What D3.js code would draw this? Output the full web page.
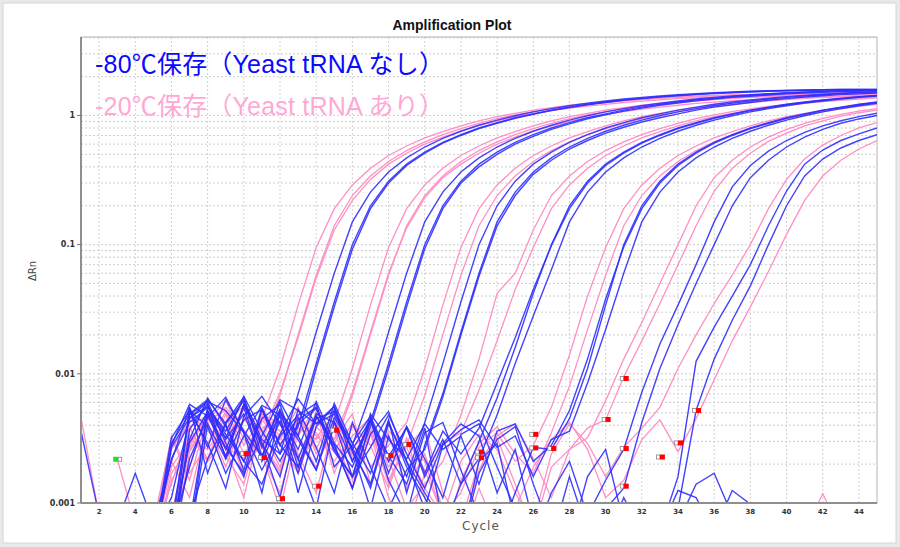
<!DOCTYPE html>
<html>
<head>
<meta charset="utf-8">
<script src="https://cdn.jsdelivr.net/npm/d3@7"></script>
<style>
  body { margin: 0; background: #e9e9e9; }
  svg { display: block; }
</style>
</head>
<body>
<svg id="chart" width="900" height="547"></svg>
<script>
var width = 900;
var height = 547;
var plotLeft = 81;
var plotRight = 877;
var plotTop = 37;
var plotBottom = 503;

var blueColor = "#2f2fff";
var pinkColor = "#ff8fc6";

/* Tick labels */
var xTicks = [2, 4, 6, 8, 10, 12, 14, 16, 18, 20, 22, 24, 26, 28, 30, 32, 34, 36, 38, 40, 42, 44];
var yTicks = [0.001, 0.01, 0.1, 1];
var yTickLabels = ["0.001", "0.01", "0.1", "1"];
var legendLabels = ["-80℃保存（Yeast tRNA なし）", "-20℃保存（Yeast tRNA あり）"];

/* -20C wells (pink): first cycle + dRn per cycle */
var pinkWells = [
  { start: 5, values: [0.0005,0.0019,0.0031,0.0044,0.0052,0.0028,0.0045,0.011,0.034,0.095,0.19,0.29,0.39,0.49,0.58,0.67,0.75,0.83,0.91,0.98,1.04,1.1,1.15,1.2,1.24,1.28,1.31,1.34,1.37,1.39,1.41,1.43,1.44,1.45,1.46,1.47,1.48,1.49,1.5,1.5,1.5] },
  { start: 6, values: [0.0006,0.0038,0.0022,0.0049,0.0017,0.0030,0.0068,0.02,0.058,0.14,0.24,0.34,0.44,0.535,0.625,0.71,0.79,0.87,0.945,1.01,1.07,1.125,1.175,1.22,1.26,1.295,1.325,1.355,1.38,1.4,1.42,1.435,1.445,1.455,1.465,1.475,1.485,1.49,1.495,1.5] },
  { start: 5, values: [0.0007,0.0032,0.0015,0.0047,0.0026,0.0058,0.0034,0.0072,0.019,0.055,0.13,0.22,0.32,0.42,0.51,0.6,0.68,0.76,0.84,0.91,0.98,1.04,1.09,1.14,1.18,1.22,1.26,1.29,1.32,1.35,1.37,1.39,1.41,1.42,1.43,1.44,1.45,1.46,1.47,1.47,1.48] },
  { start: 5, values: [0.0004,0.0015,0.0026,0.0041,0.0055,0.0037,0.0023,0.0012,0.0038,0.0031,0.0042,0.011,0.034,0.095,0.19,0.29,0.39,0.49,0.58,0.67,0.75,0.83,0.91,0.98,1.04,1.1,1.15,1.2,1.24,1.28,1.31,1.34,1.37,1.39,1.41,1.43,1.44,1.45,1.46,1.47,1.48] },
  { start: 6, values: [0.0005,0.0029,0.0051,0.0023,0.0014,0.0046,0.0033,0.0018,0.0039,0.0028,0.0068,0.02,0.058,0.14,0.24,0.34,0.44,0.535,0.625,0.71,0.79,0.87,0.945,1.01,1.07,1.125,1.175,1.22,1.26,1.295,1.325,1.355,1.38,1.4,1.42,1.435,1.445,1.455,1.465,1.475] },
  { start: 5, values: [0.0006,0.0021,0.0011,0.0043,0.0062,0.0031,0.0024,0.0009,0.0035,0.0047,0.0031,0.0072,0.021,0.06,0.135,0.23,0.33,0.42,0.51,0.6,0.68,0.76,0.83,0.9,0.96,1.02,1.07,1.12,1.16,1.2,1.24,1.27,1.3,1.32,1.34,1.36,1.38,1.39,1.4,1.41,1.42] },
  { start: 5, values: [0.0005,0.0026,0.0044,0.0036,0.0027,0.0022,0.0049,0.0041,0.0033,0.0057,0.0026,0.0041,0.0019,0.0028,0.0042,0.011,0.034,0.095,0.19,0.29,0.39,0.49,0.58,0.67,0.75,0.83,0.91,0.98,1.04,1.1,1.15,1.2,1.24,1.28,1.31,1.34,1.37,1.39,1.41,1.43,1.44] },
  { start: 6, values: [0.0007,0.0019,0.0052,0.0027,0.0011,0.0044,0.0031,0.0055,0.0024,0.0038,0.0013,0.0034,0.0021,0.0028,0.0068,0.02,0.058,0.14,0.24,0.34,0.44,0.535,0.625,0.71,0.79,0.87,0.945,1.01,1.07,1.125,1.175,1.22,1.26,1.295,1.325,1.355,1.38,1.4,1.42,1.435] },
  { start: 5, values: [0.0006,0.0033,0.0017,0.0029,0.0051,0.0024,0.0038,0.0046,0.0021,0.0032,0.0049,0.0015,0.0036,0.0022,0.0009,0.0014,0.0021,0.0048,0.013,0.042,0.06,0.13,0.24,0.34,0.44,0.535,0.625,0.71,0.79,0.87,0.945,1.01,1.07,1.125,1.175,1.22,1.26,1.295,1.325,1.355,1.38] },
  { start: 6, values: [0.0004,0.0025,0.0041,0.0019,0.0046,0.0028,0.0053,0.0024,0.0012,0.0042,0.0027,0.0035,0.0011,0.0006,0.0017,0.0029,0.0035,0.0075,0.018,0.045,0.095,0.19,0.29,0.39,0.49,0.58,0.67,0.75,0.83,0.91,0.98,1.04,1.1,1.15,1.2,1.24,1.28,1.31,1.34,1.37] },
  { start: 5, values: [0.0005,0.0022,0.0046,0.0038,0.0029,0.0044,0.0037,0.0019,0.0048,0.0026,0.0052,0.0023,0.0039,0.0014,0.0031,0.0018,0.0008,0.0012,0.0027,0.0035,0.0021,0.0028,0.0055,0.014,0.04,0.095,0.19,0.29,0.39,0.49,0.58,0.67,0.75,0.83,0.91,0.98,1.04,1.1,1.15,1.2,1.24] },
  { start: 6, values: [0.0008,0.0034,0.0021,0.0043,0.0056,0.0029,0.0017,0.0046,0.0033,0.0025,0.0041,0.0028,0.0013,0.0032,0.0011,0.0005,0.0015,0.0029,0.0039,0.0024,0.0017,0.0035,0.008,0.022,0.058,0.14,0.24,0.34,0.44,0.535,0.625,0.71,0.79,0.87,0.945,1.01,1.07,1.125,1.175,1.22] },
  { start: 5, values: [0.0006,0.0014,0.0039,0.0048,0.0023,0.0054,0.0029,0.0018,0.0042,0.0035,0.0021,0.0033,0.0046,0.0019,0.0027,0.0038,0.0012,0.0007,0.0021,0.0032,0.0014,0.0006,0.0019,0.0026,0.0032,0.0062,0.013,0.025,0.05,0.1,0.2,0.33,0.45,0.57,0.68,0.78,0.87,0.95,1.02,1.08,1.13] },
  { start: 6, values: [0.0005,0.0031,0.0026,0.0041,0.0016,0.0047,0.0036,0.0022,0.0051,0.0017,0.0039,0.0028,0.0034,0.0013,0.0024,0.0009,0.0006,0.0018,0.0033,0.0041,0.0022,0.0011,0.0026,0.0038,0.0044,0.0095,0.018,0.035,0.07,0.14,0.26,0.39,0.51,0.63,0.73,0.83,0.91,0.99,1.05,1.1] },
  { start: 5, values: [0.0004,0.0017,0.0027,0.0048,0.0034,0.0021,0.0052,0.0029,0.0017,0.0044,0.0031,0.0049,0.0014,0.0036,0.0027,0.0013,0.0008,0.0021,0.0034,0.0026,0.0012,0.0007,0.0024,0.0041,0.0029,0.0016,0.0027,0.0038,0.0055,0.011,0.02,0.035,0.058,0.1,0.19,0.32,0.46,0.59,0.7,0.8,0.88] },
  { start: 6, values: [0.0006,0.0039,0.0021,0.0031,0.0054,0.0026,0.0043,0.0033,0.0019,0.0041,0.0024,0.0036,0.0015,0.0029,0.0021,0.0008,0.0005,0.0013,0.0006,0.0009,0.0019,0.0031,0.0042,0.0026,0.0011,0.0015,0.0031,0.0044,0.0025,0.0045,0.009,0.018,0.033,0.062,0.12,0.22,0.34,0.45,0.55,0.64] },
  { start: 1, values: [0.0046, 0.0008] },
  { start: 3, values: [0.0022, 0.0007] },
  { start: 41, values: [0.0006, 0.00118, 0.0006] }
];

/* -80C wells (blue) */
var blueWells = [
  { start: 5, values: [0.0005,0.0022,0.0042,0.0055,0.0036,0.0063,0.0031,0.0024,0.007,0.021,0.06,0.15,0.255,0.365,0.47,0.57,0.665,0.755,0.84,0.92,0.995,1.065,1.13,1.19,1.245,1.295,1.34,1.38,1.415,1.445,1.475,1.5,1.52,1.54,1.555,1.565,1.575,1.585,1.59,1.59,1.59] },
  { start: 6, values: [0.0007,0.0048,0.0061,0.0029,0.0016,0.0053,0.0024,0.0039,0.012,0.036,0.1,0.2,0.31,0.42,0.52,0.62,0.71,0.8,0.88,0.96,1.03,1.1,1.16,1.22,1.27,1.32,1.36,1.4,1.43,1.46,1.49,1.51,1.53,1.55,1.56,1.57,1.58,1.59,1.59,1.59] },
  { start: 5, values: [0.0009,0.0004,0.0022,0.0046,0.0066,0.0035,0.0012,0.0051,0.0033,0.011,0.033,0.092,0.19,0.3,0.41,0.51,0.61,0.7,0.79,0.87,0.95,1.02,1.09,1.15,1.21,1.26,1.31,1.35,1.39,1.42,1.45,1.48,1.5,1.52,1.54,1.55,1.56,1.57,1.58,1.58,1.58] },
  { start: 5, values: [0.0004,0.0027,0.0046,0.0056,0.0034,0.0021,0.0014,0.0033,0.0048,0.0059,0.0019,0.0028,0.007,0.021,0.06,0.15,0.255,0.365,0.47,0.57,0.665,0.755,0.84,0.92,0.995,1.065,1.13,1.19,1.245,1.295,1.34,1.38,1.415,1.445,1.475,1.5,1.52,1.54,1.555,1.565,1.575] },
  { start: 6, values: [0.0006,0.0051,0.0029,0.0013,0.0047,0.0067,0.0041,0.0022,0.0009,0.0043,0.0021,0.0042,0.012,0.036,0.1,0.2,0.31,0.42,0.52,0.62,0.71,0.8,0.88,0.96,1.03,1.1,1.16,1.22,1.27,1.32,1.36,1.4,1.43,1.46,1.49,1.51,1.53,1.55,1.56,1.57] },
  { start: 7, values: [0.0005,0.0041,0.0022,0.0058,0.0029,0.0011,0.0044,0.0055,0.0026,0.0016,0.0039,0.011,0.033,0.093,0.19,0.3,0.4,0.5,0.6,0.69,0.78,0.86,0.94,1.01,1.08,1.14,1.2,1.25,1.3,1.34,1.38,1.41,1.44,1.47,1.49,1.51,1.53,1.54,1.55] },
  { start: 5, values: [0.0006,0.0011,0.0045,0.0061,0.0052,0.0035,0.0018,0.0034,0.0064,0.0041,0.0049,0.0026,0.0009,0.0033,0.0016,0.0042,0.012,0.036,0.1,0.2,0.31,0.42,0.52,0.62,0.71,0.8,0.88,0.96,1.03,1.1,1.16,1.22,1.27,1.32,1.36,1.4,1.43,1.46,1.49,1.51,1.53] },
  { start: 6, values: [0.0004,0.0055,0.0017,0.0042,0.0066,0.0023,0.0048,0.0012,0.0039,0.0056,0.0021,0.0044,0.0015,0.0008,0.0028,0.007,0.021,0.06,0.15,0.255,0.365,0.47,0.57,0.665,0.755,0.84,0.92,0.995,1.065,1.13,1.19,1.245,1.295,1.34,1.38,1.415,1.445,1.475,1.5,1.52] },
  { start: 7, values: [0.0007,0.0049,0.0023,0.0058,0.0029,0.0016,0.0053,0.0027,0.0012,0.0042,0.0019,0.0009,0.0018,0.0026,0.0066,0.02,0.057,0.14,0.24,0.35,0.45,0.55,0.64,0.73,0.81,0.89,0.96,1.03,1.1,1.16,1.21,1.26,1.31,1.35,1.39,1.42,1.45,1.47,1.49] },
  { start: 5, values: [0.0005,0.0028,0.0058,0.0047,0.0027,0.0017,0.0033,0.0063,0.0052,0.0041,0.0056,0.0025,0.0014,0.0043,0.0019,0.0011,0.0006,0.0014,0.003,0.0065,0.016,0.042,0.1,0.2,0.31,0.42,0.52,0.62,0.71,0.8,0.88,0.96,1.03,1.1,1.16,1.22,1.27,1.32,1.36,1.4,1.43] },
  { start: 6, values: [0.0005,0.0031,0.0065,0.0039,0.0021,0.0045,0.0058,0.0022,0.0047,0.0028,0.0013,0.0044,0.0021,0.0039,0.0017,0.0036,0.0024,0.0038,0.0085,0.019,0.045,0.098,0.19,0.3,0.41,0.51,0.61,0.7,0.79,0.87,0.95,1.02,1.09,1.15,1.21,1.26,1.31,1.35,1.39,1.42] },
  { start: 7, values: [0.0008,0.0022,0.0041,0.0062,0.0027,0.0053,0.0019,0.0045,0.0051,0.0029,0.0047,0.0023,0.0038,0.0016,0.0031,0.0014,0.0022,0.0048,0.012,0.028,0.064,0.15,0.255,0.365,0.47,0.57,0.665,0.755,0.84,0.92,0.995,1.065,1.13,1.19,1.245,1.295,1.34,1.38,1.415] },
  { start: 5, values: [0.0004,0.0029,0.0049,0.0063,0.0041,0.0018,0.0055,0.0028,0.0046,0.0021,0.0059,0.0029,0.0017,0.0044,0.0012,0.0035,0.0042,0.0018,0.0008,0.0005,0.0012,0.0027,0.0026,0.0045,0.011,0.034,0.1,0.2,0.31,0.42,0.52,0.62,0.71,0.8,0.88,0.96,1.03,1.1,1.16,1.22,1.27] },
  { start: 6, values: [0.0006,0.0019,0.0052,0.0032,0.0067,0.0036,0.0021,0.0041,0.0054,0.0025,0.0016,0.0049,0.0031,0.0022,0.0041,0.0026,0.0033,0.0014,0.0036,0.0041,0.0021,0.0028,0.0052,0.013,0.038,0.096,0.19,0.3,0.41,0.51,0.61,0.7,0.79,0.87,0.95,1.02,1.09,1.15,1.21,1.26] },
  { start: 7, values: [0.0005,0.0057,0.0031,0.0049,0.0022,0.0061,0.0033,0.0018,0.0046,0.0027,0.0013,0.0041,0.0021,0.0009,0.0028,0.0037,0.0044,0.0027,0.0033,0.0016,0.0031,0.0036,0.0085,0.022,0.06,0.15,0.255,0.365,0.47,0.57,0.665,0.755,0.84,0.92,0.995,1.065,1.13,1.19,1.245] },
  { start: 5, values: [0.0007,0.0021,0.0055,0.0027,0.0063,0.0036,0.0023,0.0051,0.0031,0.0018,0.0053,0.0026,0.0044,0.0017,0.0039,0.0022,0.0011,0.0034,0.0041,0.0019,0.0009,0.0005,0.0012,0.0021,0.0008,0.0015,0.0026,0.0072,0.017,0.034,0.07,0.15,0.28,0.41,0.53,0.64,0.74,0.83,0.91,0.98,1.04] },
  { start: 6, values: [0.0004,0.0037,0.0059,0.0022,0.0044,0.0053,0.0028,0.0019,0.0049,0.0042,0.0016,0.0027,0.0048,0.0024,0.0013,0.0029,0.0041,0.0033,0.0012,0.0026,0.0007,0.0005,0.0016,0.0006,0.0009,0.0013,0.0042,0.011,0.024,0.05,0.1,0.2,0.33,0.45,0.57,0.68,0.78,0.87,0.94,1.0] },
  { start: 5, values: [0.0005,0.0032,0.0052,0.0039,0.0017,0.0033,0.0057,0.0048,0.0026,0.0061,0.0029,0.0019,0.0044,0.0023,0.0014,0.0038,0.0007,0.0005,0.0021,0.0029,0.0007,0.0005,0.0006,0.0005,0.0016,0.0026,0.0007,0.0005,0.0006,0.0016,0.0125,0.023,0.04,0.07,0.14,0.26,0.42,0.54,0.64,0.72,0.8] },
  { start: 6, values: [0.0006,0.0029,0.0051,0.0026,0.0055,0.0021,0.0043,0.0017,0.0047,0.0028,0.0013,0.0034,0.0051,0.0021,0.0012,0.0007,0.0005,0.0017,0.0031,0.0039,0.0014,0.0006,0.0005,0.0006,0.0005,0.0011,0.0006,0.0005,0.0009,0.0052,0.013,0.026,0.048,0.1,0.2,0.34,0.46,0.56,0.64,0.71] },
  { start: 1, values: [0.0036, 0.0008] },
  { start: 3, values: [0.0007, 0.0017, 0.0007] },
  { start: 33, values: [0.0006, 0.00125, 0.0011, 0.0006] },
  { start: 34, values: [0.0007, 0.0014, 0.0017, 0.0008] },
  { start: 36, values: [0.0006, 0.00125, 0.00098, 0.0006] }
];

/* baseline end markers [cycle, dRn] */
var startMarker = [3, 0.00218];
var markers = [
  [10, 0.00241], [11, 0.00225], [12, 0.00108], [14, 0.00135], [15, 0.00366],
  [18, 0.00233], [19, 0.00284], [23, 0.00248], [23, 0.00224], [26, 0.0034],
  [26, 0.00267], [27, 0.00264], [30, 0.00443], [31, 0.0092], [31, 0.00264],
  [31, 0.00135], [33, 0.00227], [34, 0.00292], [35, 0.0052]
];

var svg = d3.select("#chart");

/* panel */
svg.append("rect")
  .attr("x", 3).attr("y", 3)
  .attr("width", width - 7).attr("height", height - 7)
  .attr("fill", "#fff")
  .attr("stroke", "#d6d6d6");

/* Scale */
var xScale = d3.scaleLinear().domain([1, 45]).range([plotLeft, plotRight]);
var yScale = d3.scaleLog().domain([0.001, 4.05]).range([plotBottom, plotTop]);

svg.append("defs")
  .append("clipPath")
  .attr("id", "plotClip")
  .append("rect")
  .attr("x", plotLeft).attr("y", plotTop)
  .attr("width", plotRight - plotLeft).attr("height", plotBottom - plotTop);

/* grid */
var grid = svg.append("g").attr("class", "grid");
grid.selectAll(".vgrid")
  .data(xTicks)
  .enter()
  .append("line")
  .attr("x1", d => xScale(d)).attr("x2", d => xScale(d))
  .attr("y1", plotTop).attr("y2", plotBottom)
  .attr("stroke", "#d2d2d2")
  .attr("stroke-dasharray", "2,2");

grid.selectAll(".hgrid")
  .data(yScale.ticks().filter(d => d > 0.001))
  .enter()
  .append("line")
  .attr("x1", plotLeft).attr("x2", plotRight)
  .attr("y1", d => yScale(d)).attr("y2", d => yScale(d))
  .attr("stroke", "#cfcfcf")
  .attr("stroke-dasharray", "2,2");

svg.append("rect")
  .attr("x", plotLeft).attr("y", plotTop)
  .attr("width", plotRight - plotLeft).attr("height", plotBottom - plotTop)
  .attr("fill", "none")
  .attr("stroke", "#b4b4b4");

/* Add lines */
var line = d3.line()
  .x(d => xScale(d[0]))
  .y(d => yScale(d[1]));

function toPoints(w) {
  return w.values.map((v, i) => [w.start + i, v]);
}

var lines = svg.append("g").attr("clip-path", "url(#plotClip)");

lines.selectAll(".pink")
  .data(pinkWells)
  .enter()
  .append("path")
  .attr("d", d => line(toPoints(d)))
  .attr("fill", "none")
  .attr("stroke", pinkColor)
  .attr("stroke-width", 1.3);

lines.selectAll(".blue")
  .data(blueWells)
  .enter()
  .append("path")
  .attr("d", d => line(toPoints(d)))
  .attr("fill", "none")
  .attr("stroke", blueColor)
  .attr("stroke-width", 1.4)
  .attr("stroke-opacity", 0.9);

/* markers */
var marks = svg.append("g");
marks.selectAll(".mk")
  .data(markers)
  .enter()
  .append("g")
  .each(function(d) {
    var g = d3.select(this);
    var cx = xScale(d[0]);
    var cy = yScale(d[1]);
    g.append("rect")
      .attr("x", cx - 3.5).attr("y", cy - 2)
      .attr("width", 3.5).attr("height", 4)
      .attr("fill", "#fff").attr("stroke", "#888").attr("stroke-width", 0.8);
    g.append("rect")
      .attr("x", cx).attr("y", cy - 2.5)
      .attr("width", 5).attr("height", 5)
      .attr("fill", "#ff0000");
  });

var sx = xScale(startMarker[0]);
var sy = yScale(startMarker[1]);
marks.append("rect")
  .attr("x", sx - 4).attr("y", sy - 2.5)
  .attr("width", 5).attr("height", 5)
  .attr("fill", "#22e022");
marks.append("rect")
  .attr("x", sx + 1).attr("y", sy - 2)
  .attr("width", 3.5).attr("height", 4)
  .attr("fill", "#fff").attr("stroke", "#888").attr("stroke-width", 0.8);

/* Axis lines */
svg.append("line")
  .attr("x1", plotLeft).attr("x2", plotLeft)
  .attr("y1", plotTop).attr("y2", plotBottom)
  .attr("stroke", "#8f8f8f").attr("stroke-width", 2);
svg.append("line")
  .attr("x1", plotLeft).attr("x2", plotRight)
  .attr("y1", plotBottom).attr("y2", plotBottom)
  .attr("stroke", "#8f8f8f").attr("stroke-width", 2);

/* y ticks */
var yAxis = svg.append("g");
yAxis.selectAll("line")
  .data(yTicks)
  .enter()
  .append("line")
  .attr("x1", plotLeft - 4).attr("x2", plotLeft)
  .attr("y1", d => yScale(d)).attr("y2", d => yScale(d))
  .attr("stroke", "#777");
yAxis.selectAll("text")
  .data(yTicks)
  .enter()
  .append("text")
  .attr("x", plotLeft - 6)
  .attr("y", d => yScale(d))
  .attr("dy", "0.35em")
  .attr("text-anchor", "end")
  .style("font-family", "DejaVu Sans, sans-serif")
  .style("font-weight", "bold")
  .style("font-size", "8px")
  .attr("fill", "#333")
  .text((d, i) => yTickLabels[i]);

/* x ticks */
svg.append("g")
  .selectAll("text")
  .data(xTicks)
  .enter()
  .append("text")
  .attr("x", d => xScale(d))
  .attr("y", 514)
  .attr("text-anchor", "middle")
  .style("font-family", "DejaVu Sans, sans-serif")
  .style("font-weight", "bold")
  .style("font-size", "7px")
  .attr("fill", "#333")
  .text(d => d);

/* titles */
svg.append("text")
  .attr("x", 452).attr("y", 30)
  .attr("text-anchor", "middle")
  .style("font-family", "Liberation Sans, Arial, sans-serif")
  .style("font-weight", "bold")
  .style("font-size", "14px")
  .attr("fill", "#111")
  .text("Amplification Plot");

svg.append("text")
  .attr("x", 462).attr("y", 530)
  .style("font-family", "DejaVu Sans, sans-serif")
  .style("font-size", "12px")
  .style("letter-spacing", "1px")
  .attr("fill", "#555")
  .text("Cycle");

svg.append("text")
  .attr("transform", "translate(36,271) rotate(-90)")
  .attr("text-anchor", "middle")
  .style("font-family", "DejaVu Sans, sans-serif")
  .style("font-size", "10px")
  .attr("fill", "#444")
  .text("ΔRn");

/* legend */
svg.selectAll(".legend")
  .data(legendLabels)
  .enter()
  .append("text")
  .attr("x", 95)
  .attr("y", (d, i) => 73 + i * 42)
  .style("font-family", "Liberation Sans, 'Noto Sans CJK JP', sans-serif")
  .style("font-size", "25px")
  .style("letter-spacing", "0.2px")
  .attr("fill", (d, i) => i === 0 ? "#0a0aff" : "#ffa8d6")
  .text(d => d);
</script>
</body>
</html>
